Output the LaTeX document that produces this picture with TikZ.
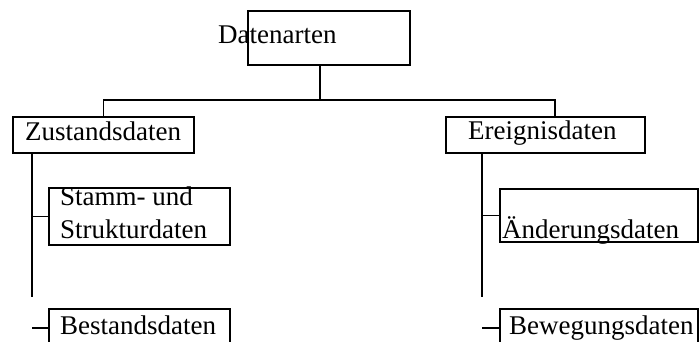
\documentclass[tikz,border=0pt]{standalone}
\usepackage{fontspec}
\setmainfont{Liberation Serif}
\usetikzlibrary{
    positioning,
    calc
}

\begin{document}
\begin{tikzpicture}[
    x=1pt, y=-1pt,
    every node/.style={font=\fontsize{27}{33}\selectfont, inner sep=0pt},
    kasten/.style={
        draw,
        line width=1.8pt,
        minimum width=#1
    },
    schrift/.style={
        anchor=base west
    },
    linie/.style={
        line width=1.8pt
    }
]
\useasboundingbox (0,0) rectangle (699,341);
\clip (0,0) rectangle (699,341);

% Kaesten
\node[kasten=162pt, minimum height=54pt] (datenarten) at (329,38) {};
\node[kasten=181pt, minimum height=36pt] (zustand) at (103.5,135) {};
\node[kasten=199pt, minimum height=36pt] (ereignis) at (545.5,135) {};
\node[kasten=181pt, minimum height=57pt] (stamm) at (139.5,216.5) {};
\node[kasten=198pt, minimum height=53pt] (aenderung) at (599,215.5) {};
\node[kasten=181pt, minimum height=60pt] (bestand) at (139.5,339) {};
\node[kasten=198pt, minimum height=60pt] (bewegung) at (599,339) {};

% Texte
\node[schrift] (datenartentext) at (218,43) {Datenarten};
\node[schrift] (zustandtext) at (25,140) {Zustandsdaten};
\node[schrift] (ereignistext) at (468,139) {Ereignisdaten};
\node[schrift] (stammtext) at (60,205) {Stamm- und};
\node[schrift] (strukturtext) at (60,238) {Strukturdaten};
\node[schrift] (aenderungtext) at (502,238) {Änderungsdaten};
\node[schrift] (bestandtext) at (60,334) {Bestandsdaten};
\node[schrift] (bewegungtext) at (509,334) {Bewegungsdaten};

% Verbindungen
\coordinate (teilung) at (320,100);
\coordinate (rechts) at (555,100);
\coordinate (zende) at (32,297);
\coordinate (eende) at (482,297);
\coordinate (zast) at (32,328);
\coordinate (east) at (482,328);

\draw[linie] (datenarten.south -| teilung) -- (teilung);
\draw[linie] (zustand.north) |- (rechts) -- (ereignis.north -| rechts);
\draw[linie] (zustand.south -| zende) -- (zende);
\draw[linie] (stamm.west -| zende) -- (stamm.west);
\draw[linie] (zast) -- (zast -| bestand.west);
\draw[linie] (ereignis.south -| eende) -- (eende);
\draw[linie] (aenderung.west -| eende) -- (aenderung.west);
\draw[linie] (east) -- (east -| bewegung.west);

\end{tikzpicture}
\end{document}
